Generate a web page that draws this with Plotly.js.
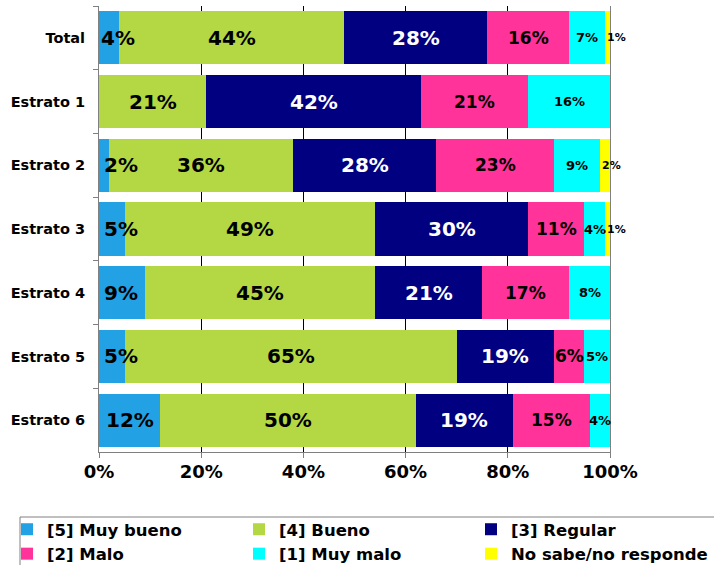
<!DOCTYPE html>
<html>
<head>
<meta charset="utf-8">
<script src="https://cdn.plot.ly/plotly-3.0.1.min.js"></script>
<style>html,body{margin:0;padding:0;background:#fff;}#chart{width:714px;height:565px;}</style>
</head>
<body>
<div id="chart"></div>
<script>
const categories = ['Total','Estrato 1','Estrato 2','Estrato 3','Estrato 4','Estrato 5','Estrato 6'];
const seriesNames = ['[5] Muy bueno','[4] Bueno','[3] Regular','[2] Malo','[1] Muy malo','No sabe/no responde'];
const muyBueno = [4,0,2,5,9,5,12];
const bueno    = [44,21,36,49,45,65,50];
const regular  = [28,42,28,30,21,19,19];
const malo     = [16,21,23,11,17,6,15];
const muyMalo  = [7,16,9,4,8,5,4];
const nsnr     = [1,0,2,1,0,0,0];
const xTicks = [0,20,40,60,80,100];
const xTickLabels = ['0%','20%','40%','60%','80%','100%'];

const series = [muyBueno,bueno,regular,malo,muyMalo,nsnr];
const colors = ['#22A1E4','#B4D843','#000080','#FF3399','#00FFFF','#FFFF00'];
const labelColors = ['#000','#000','#fff','#000','#000','#000'];
const labelSizes = [20,20,20,17,13,11];
const legendCols = ['legend','legend2','legend3','legend','legend2','legend3'];
const FONT = 'DejaVu Sans';
const W = 714, H = 565;

const traces = series.map((vals,i)=>({
  type:'bar', orientation:'h', name:seriesNames[i],
  x:vals, y:categories,
  marker:{color:colors[i], line:{width:0}},
  legend:legendCols[i], legendgroup:'g'+i,
  hoverinfo:'none'
}));

const annotations = [];
categories.forEach((c,ci)=>{
  let cum = 0;
  series.forEach((vals,si)=>{
    const v = vals[ci];
    if(v>0){
      const a = {
        x: cum + v/2, y: c, xref:'x', yref:'y',
        text: v + '%', showarrow:false,
        font:{family:FONT, size:labelSizes[si], color:labelColors[si], weight:'bold'},
        xanchor:'center', yanchor:'middle'
      };
      if(si===0 && v<10){ a.x = cum; a.xanchor='left'; a.xshift = (ci===0 ? 0 : 3); }
      if(si===5){ a.x = cum; a.xanchor='left'; }
      annotations.push(a);
    }
    cum += v;
  });
});

const M = {l:99, r:104, t:6, b:113};
const plotL = M.l, plotR = W-M.r, plotT = M.t, plotB = H-M.b;
const px2x = p => (p-plotL)/(plotR-plotL);
const px2y = p => (plotB-p)/(plotB-plotT);
const shapes = [{
  type:'rect', xref:'paper', yref:'paper',
  x0:px2x(20), x1:px2x(W+10), y0:px2y(517), y1:px2y(H+10),
  line:{color:'#808080', width:1}, fillcolor:'rgba(0,0,0,0)', layer:'above'
}];

const legendFont = {family:FONT, size:16.5, weight:'bold', color:'#000'};
const mkLegend = xpx => ({
  orientation:'v', xref:'container', yref:'container',
  x:xpx/W, y:1-512/H, xanchor:'left', yanchor:'top',
  borderwidth:0, bgcolor:'rgba(0,0,0,0)',
  font:legendFont, traceorder:'grouped', tracegroupgap:0
});

const layout = {
  width:W, height:H,
  margin:{l:M.l, r:M.r, t:M.t, b:M.b, pad:0, autoexpand:false},
  paper_bgcolor:'#fff', plot_bgcolor:'#fff',
  barmode:'stack', bargap:0.168,
  showlegend:true,
  font:{family:FONT, color:'#000'},
  xaxis:{
    range:[0,100], tickvals:xTicks, ticktext:xTickLabels,
    showgrid:true, gridcolor:'#000', gridwidth:1,
    showline:true, linecolor:'#808080', linewidth:1,
    ticks:'outside', ticklen:5, tickcolor:'#808080',
    tickfont:{family:FONT, size:18, weight:'bold', color:'#000'},
    ticklabelstandoff:-2, zeroline:false, fixedrange:true
  },
  yaxis:{
    autorange:'reversed', type:'category',
    showline:true, linecolor:'#808080', linewidth:1, mirror:true,
    ticks:'outside', ticklen:5, tickcolor:'#808080', tickson:'boundaries',
    tickfont:{family:FONT, size:14.5, weight:'bold', color:'#000'},
    ticklabelstandoff:10, showgrid:false, zeroline:false, fixedrange:true
  },
  legend:mkLegend(7),
  legend2:mkLegend(239),
  legend3:mkLegend(471),
  shapes:shapes,
  annotations:annotations
};

Plotly.newPlot('chart', traces, layout, {staticPlot:true, displayModeBar:false});
</script>
</body>
</html>
